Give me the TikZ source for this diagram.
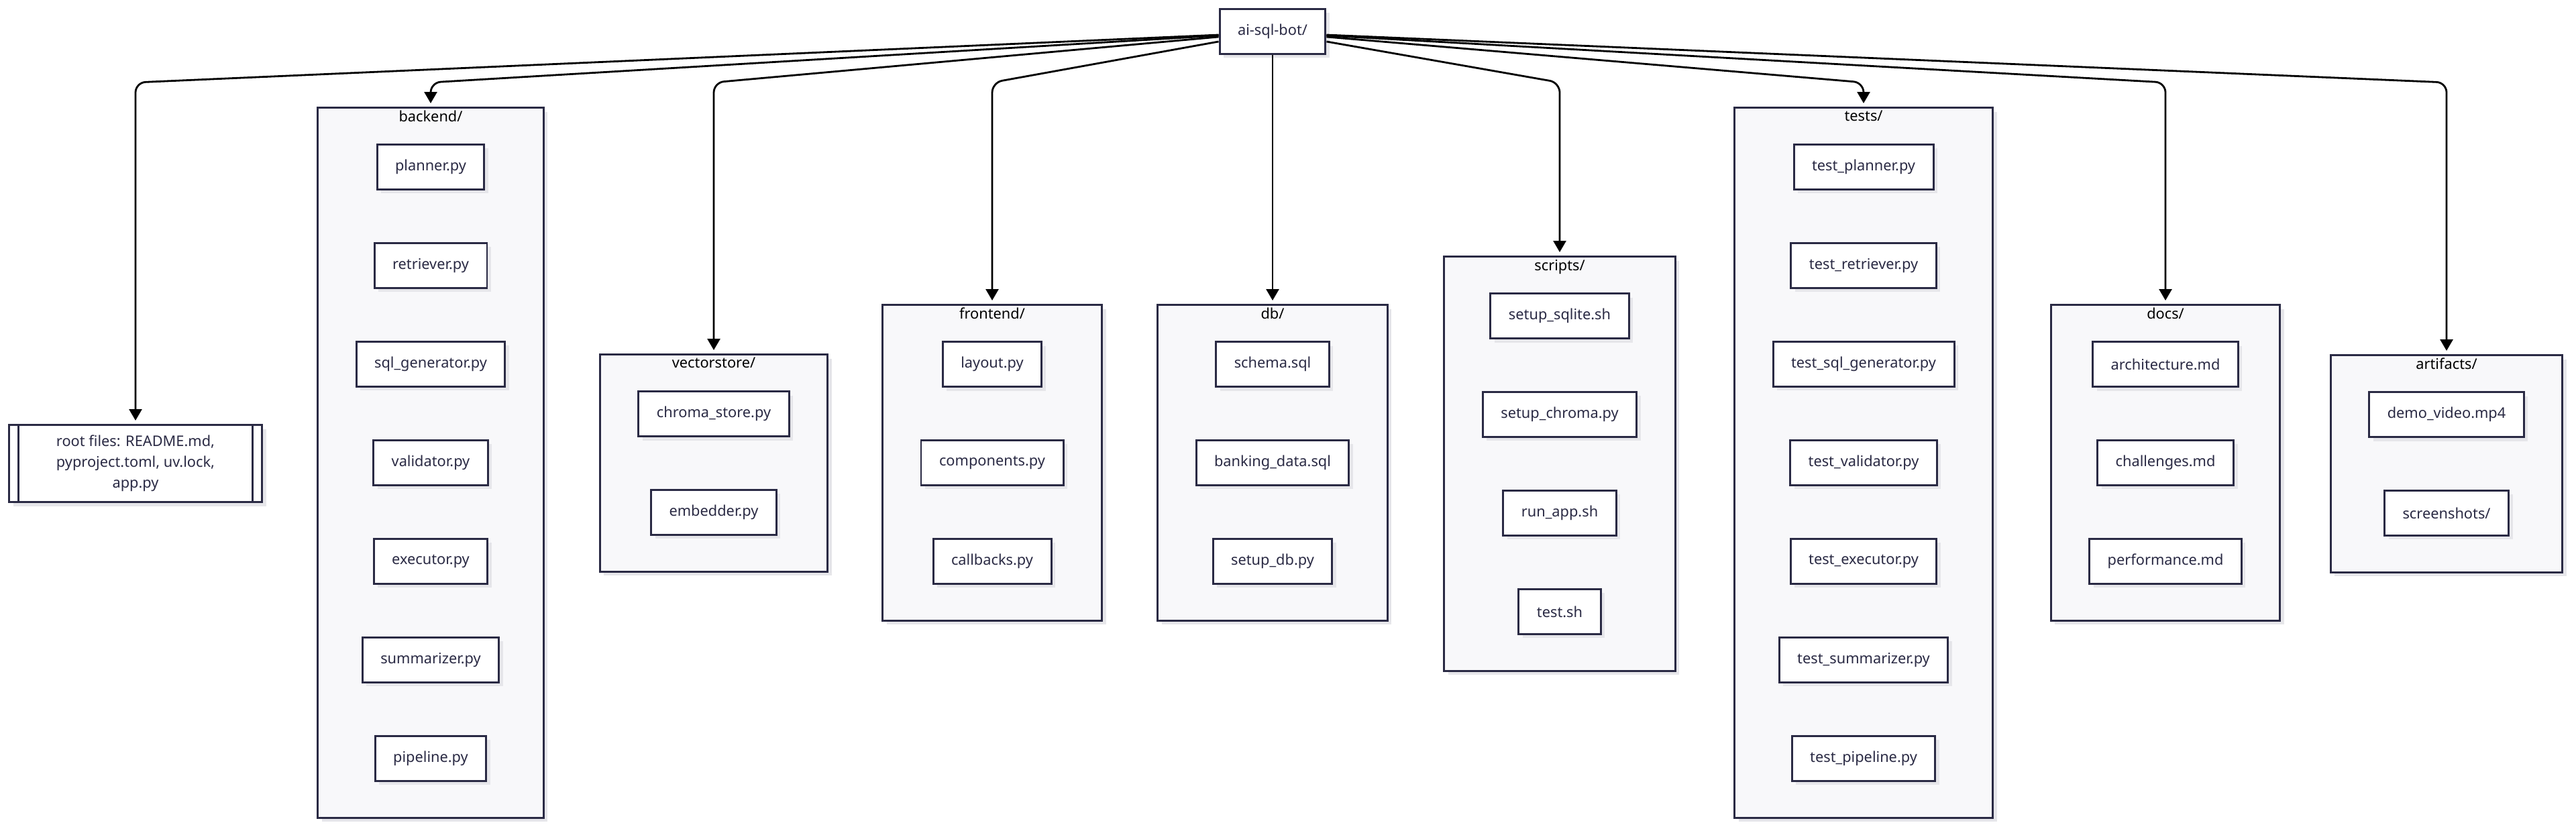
\documentclass[tikz,border=0pt]{standalone}
\usepackage{fontspec}
\setmainfont{Noto Sans}
\usetikzlibrary{arrows.meta,positioning,fit,backgrounds,shadows}
\definecolor{ink}{HTML}{2A2A44}
\definecolor{framefill}{HTML}{F8F8FA}
\definecolor{shade}{HTML}{E6E6EA}

\begin{document}
\begin{tikzpicture}[
    node distance=0.77cm,
    box/.style={rectangle,draw=ink,line width=0.85pt,fill=white,text=ink,
                minimum height=0.67cm,inner xsep=0.27cm,
                font=\fontsize{6.2}{8.8}\selectfont,
                drop shadow={shadow xshift=0.06cm,shadow yshift=-0.06cm,
                             fill=shade,opacity=1}},
    folder/.style={rectangle,draw=ink,line width=0.85pt,fill=framefill,
                   inner xsep=0.56cm,inner ysep=0.535cm,
                   drop shadow={shadow xshift=0.06cm,shadow yshift=-0.06cm,
                                fill=shade,opacity=1}},
    title/.style={inner sep=0pt,text=black,font=\fontsize{6.2}{8.8}\selectfont},
    edge/.style={->,line width=0.8pt,rounded corners=0.15cm,shorten >=0.05cm},
    >={Triangle[length=0.17cm,width=0.19cm]}
  ]
    \useasboundingbox (0,0) rectangle (38.4,-12.39);
    \coordinate (bend) at (0,-1.23);

    \node[box] (root) at (18.97,-0.47) {ai-sql-bot/};
    \node[box,minimum width=3.77cm,minimum height=1.15cm,align=center,
          path picture={
            \draw[ink,line width=0.85pt]
              ([xshift=0.14cm]path picture bounding box.north west) --
              ([xshift=0.14cm]path picture bounding box.south west);
            \draw[ink,line width=0.85pt]
              ([xshift=-0.14cm]path picture bounding box.north east) --
              ([xshift=-0.14cm]path picture bounding box.south east);}]
      (rootfiles) at (2.02,-6.91)
      {root files: README.md,\\ pyproject.toml, uv.lock,\\ app.py};

    % backend/
    \node[box] (plan) at (6.42,-2.49) {planner.py};
    \node[box,below=of plan] (retr) {retriever.py};
    \node[box,below=of retr] (sqlgen) {sql\_generator.py};
    \node[box,below=of sqlgen] (valid) {validator.py};
    \node[box,below=of valid] (exec) {executor.py};
    \node[box,below=of exec] (summ) {summarizer.py};
    \node[box,below=of summ] (pipe) {pipeline.py};

    % vectorstore/
    \node[box] (chroma) at (10.64,-6.17) {chroma\_store.py};
    \node[box,below=of chroma] (embed) {embedder.py};

    % frontend/
    \node[box] (layout) at (14.79,-5.43) {layout.py};
    \node[box,below=of layout] (comp) {components.py};
    \node[box,below=of comp] (callb) {callbacks.py};

    % db/
    \node[box] (schema) at (18.97,-5.43) {schema.sql};
    \node[box,below=of schema] (bankdata) {banking\_data.sql};
    \node[box,below=of bankdata] (setupdb) {setup\_db.py};

    % scripts/
    \node[box] (sqlite) at (23.25,-4.71) {setup\_sqlite.sh};
    \node[box,below=of sqlite] (setchroma) {setup\_chroma.py};
    \node[box,below=of setchroma] (runapp) {run\_app.sh};
    \node[box,below=of runapp] (testsh) {test.sh};

    % tests/
    \node[box] (tplan) at (27.78,-2.49) {test\_planner.py};
    \node[box,below=of tplan] (tretr) {test\_retriever.py};
    \node[box,below=of tretr] (tsqlgen) {test\_sql\_generator.py};
    \node[box,below=of tsqlgen] (tvalid) {test\_validator.py};
    \node[box,below=of tvalid] (texec) {test\_executor.py};
    \node[box,below=of texec] (tsumm) {test\_summarizer.py};
    \node[box,below=of tsumm] (tpipe) {test\_pipeline.py};

    % docs/
    \node[box] (arch) at (32.28,-5.43) {architecture.md};
    \node[box,below=of arch] (chall) {challenges.md};
    \node[box,below=of chall] (perf) {performance.md};

    % artifacts/
    \node[box] (demo) at (36.47,-6.18) {demo\_video.mp4};
    \node[box,below=of demo] (shots) {screenshots/};

    \begin{scope}[on background layer]
      \node[folder,fit=(plan)(retr)(sqlgen)(valid)(exec)(summ)(pipe)] (backend) {};
      \node[folder,fit=(chroma)(embed)] (vectorstore) {};
      \node[folder,fit=(layout)(comp)(callb)] (frontend) {};
      \node[folder,fit=(schema)(bankdata)(setupdb)] (db) {};
      \node[folder,fit=(sqlite)(setchroma)(runapp)(testsh)] (scripts) {};
      \node[folder,fit=(tplan)(tretr)(tsqlgen)(tvalid)(texec)(tsumm)(tpipe)] (tests) {};
      \node[folder,fit=(arch)(chall)(perf)] (docs) {};
      \node[folder,fit=(demo)(shots)] (artifacts) {};
    \end{scope}

    \node[title,below=0.055cm of backend.north] (tbackend) {backend/};
    \node[title,below=0.055cm of vectorstore.north] (tvector) {vectorstore/};
    \node[title,below=0.055cm of frontend.north] (tfront) {frontend/};
    \node[title,below=0.055cm of db.north] (tdb) {db/};
    \node[title,below=0.055cm of scripts.north] (tscripts) {scripts/};
    \node[title,below=0.055cm of tests.north] (ttests) {tests/};
    \node[title,below=0.055cm of docs.north] (tdocs) {docs/};
    \node[title,below=0.055cm of artifacts.north] (tartif) {artifacts/};

    \draw[edge] ([yshift=-0.05cm]root.west) -- (rootfiles.north |- bend) -- (rootfiles.north);
    \draw[edge] ([yshift=-0.06cm]root.west) -- (backend.north |- bend) -- (backend.north);
    \draw[edge] ([yshift=-0.08cm]root.west) -- (vectorstore.north |- bend) -- (vectorstore.north);
    \draw[edge] ([yshift=-0.15cm]root.west) -- (frontend.north |- bend) -- (frontend.north);
    \draw[edge] (root) -- (db);
    \draw[edge] ([yshift=-0.15cm]root.east) -- (scripts.north |- bend) -- (scripts.north);
    \draw[edge] ([yshift=-0.08cm]root.east) -- (tests.north |- bend) -- (tests.north);
    \draw[edge] ([yshift=-0.06cm]root.east) -- (docs.north |- bend) -- (docs.north);
    \draw[edge] ([yshift=-0.05cm]root.east) -- (artifacts.north |- bend) -- (artifacts.north);
  \end{tikzpicture}
\end{document}
